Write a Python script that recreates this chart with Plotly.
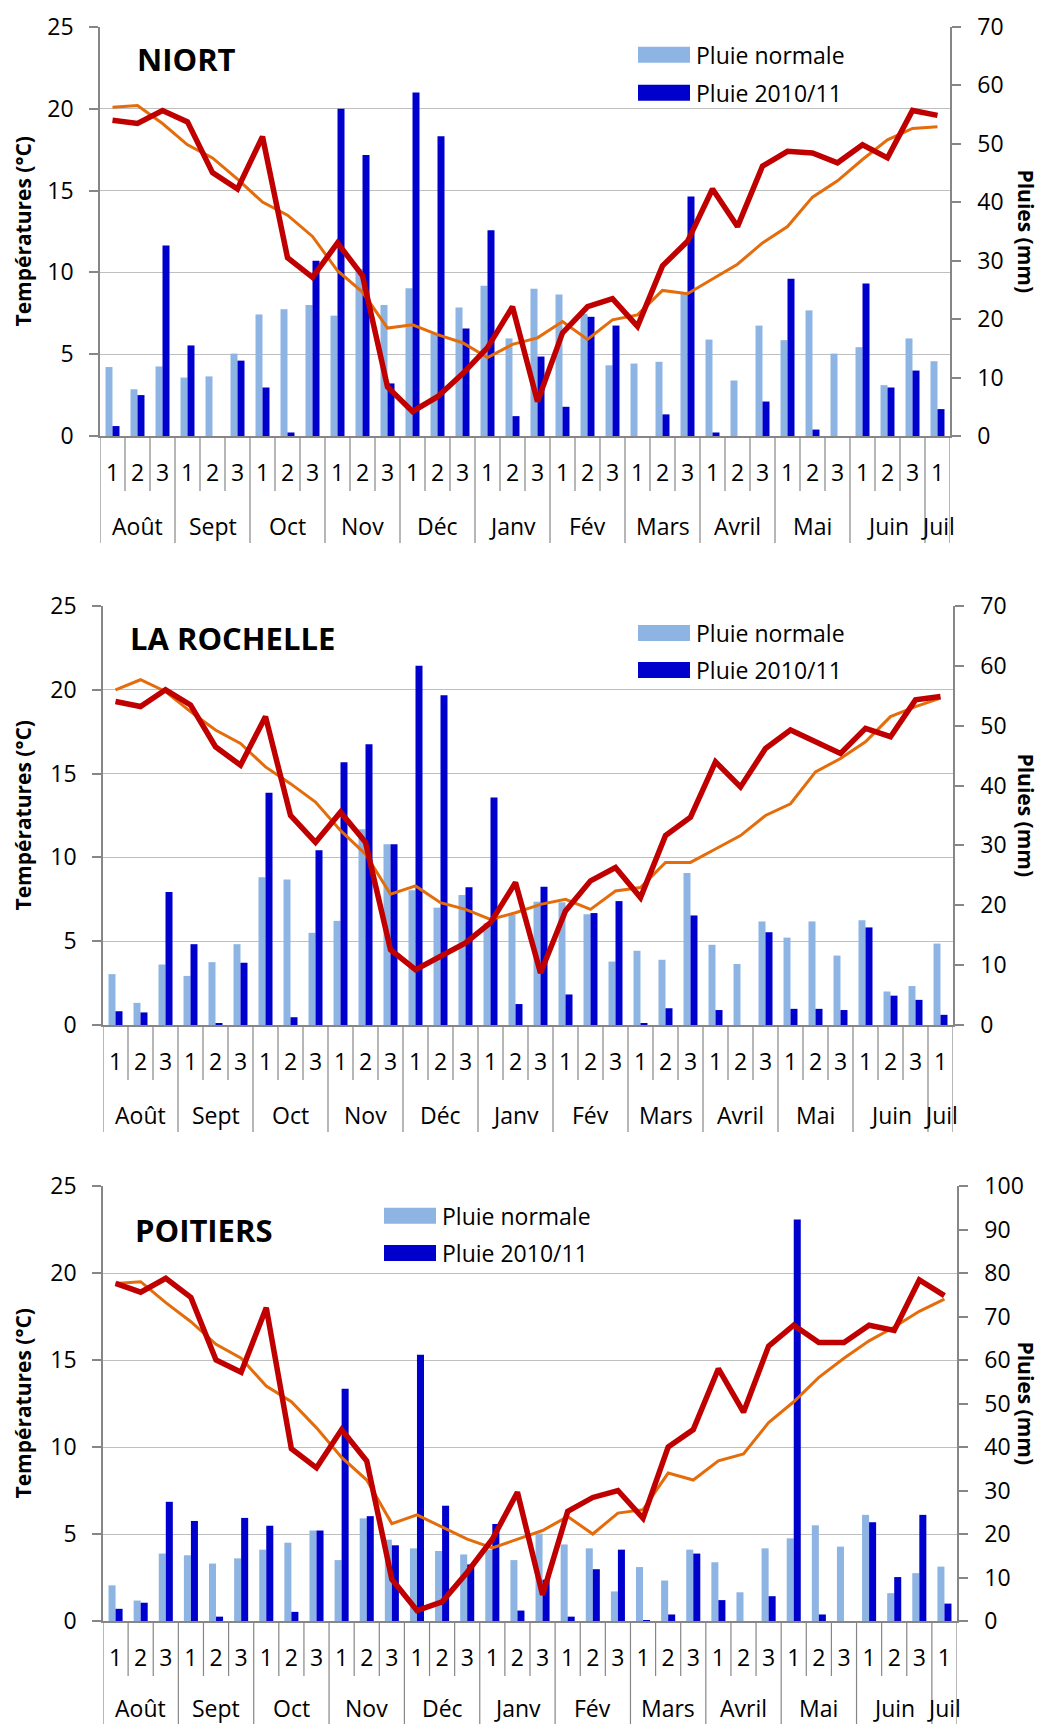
import plotly.graph_objects as go

W, H = 1043, 1724
OFF = 8  # page body margin of the html page (px)
FONT = "Open Sans"

# ---------------- data ----------------
months = ["Août", "Sept", "Oct", "Nov", "Déc", "Janv", "Fév", "Mars", "Avril", "Mai", "Juin", "Juil"]
decades_per_month = [3, 3, 3, 3, 3, 3, 3, 3, 3, 3, 3, 1]
decade_labels = [str(d + 1) for n in decades_per_month for d in range(n)]
categories = [f"{m} {d + 1}" for m, n in zip(months, decades_per_month) for d in range(n)]

niort_rain_normal = [11.8, 8.0, 11.9, 10.0, 10.2, 14.1, 20.8, 21.7, 22.4, 20.6, 28.6, 22.4, 25.3, 17.5, 22.0, 25.7, 16.7,
                     25.2, 24.2, 20.9, 12.1, 12.4, 12.7, 24.4, 16.5, 9.5, 18.9, 16.4, 21.5, 14.1, 15.2, 8.7, 16.7, 12.8]
niort_rain_2010 = [1.7, 7.0, 32.6, 15.5, 0.0, 12.9, 8.3, 0.6, 30.0, 56.0, 48.1, 9.0, 58.8, 51.3, 18.4, 35.2, 3.4,
                   13.6, 5.0, 20.4, 18.9, 0.0, 3.7, 41.0, 0.6, 0.0, 5.9, 26.9, 1.1, 0.0, 26.1, 8.3, 11.2, 4.6]
niort_temp_normal = [20.1, 20.2, 19.1, 17.8, 17.0, 15.7, 14.3, 13.5, 12.2, 10.1, 8.8, 6.6, 6.8, 6.2, 5.7, 4.8, 5.6,
                     6.0, 7.0, 5.9, 7.1, 7.4, 8.9, 8.7, 9.6, 10.5, 11.8, 12.8, 14.6, 15.6, 16.9, 18.1, 18.8, 18.9]
niort_temp_2010 = [19.3, 19.1, 19.9, 19.2, 16.1, 15.1, 18.3, 10.9, 9.7, 11.8, 9.8, 3.0, 1.5, 2.4, 3.8, 5.4, 7.9,
                   2.1, 6.3, 7.9, 8.4, 6.7, 10.4, 11.9, 15.1, 12.8, 16.5, 17.4, 17.3, 16.7, 17.8, 17.0, 19.9, 19.6]

lr_rain_normal = [8.5, 3.7, 10.1, 8.2, 10.5, 13.5, 24.7, 24.3, 15.4, 17.4, 32.7, 30.2, 22.5, 19.6, 21.7, 17.0, 18.4,
                  20.6, 20.5, 18.5, 10.6, 12.4, 10.9, 25.4, 13.4, 10.2, 17.3, 14.6, 17.3, 11.6, 17.5, 5.6, 6.5, 13.6]
lr_rain_2010 = [2.3, 2.1, 22.2, 13.5, 0.3, 10.4, 38.8, 1.3, 29.2, 43.9, 46.9, 30.2, 60.0, 55.1, 23.0, 38.0, 3.5,
                23.1, 5.1, 18.7, 20.7, 0.3, 2.8, 18.3, 2.5, 0.0, 15.5, 2.7, 2.7, 2.5, 16.3, 4.9, 4.2, 1.7]
lr_temp_normal = [20.0, 20.6, 19.9, 18.7, 17.6, 16.8, 15.4, 14.4, 13.3, 11.6, 10.2, 7.8, 8.3, 7.3, 6.9, 6.3, 6.7,
                  7.2, 7.5, 6.9, 8.0, 8.2, 9.7, 9.7, 10.5, 11.3, 12.5, 13.2, 15.1, 15.9, 16.9, 18.4, 19.0, 19.5]
lr_temp_2010 = [19.3, 19.0, 20.0, 19.1, 16.6, 15.5, 18.4, 12.5, 10.9, 12.7, 10.9, 4.5, 3.3, 4.1, 4.9, 6.1, 8.5,
                3.1, 6.8, 8.6, 9.4, 7.6, 11.3, 12.4, 15.7, 14.2, 16.5, 17.6, 16.9, 16.2, 17.7, 17.2, 19.4, 19.6]

pt_rain_normal = [8.2, 4.7, 15.5, 15.1, 13.2, 14.4, 16.4, 18.0, 20.8, 14.0, 23.6, 18.7, 16.7, 16.1, 15.3, 16.4, 14.0,
                  20.1, 17.6, 16.7, 6.8, 12.4, 9.3, 16.4, 13.5, 6.6, 16.7, 19.0, 22.0, 17.1, 24.4, 6.4, 11.0, 12.5]
pt_rain_2010 = [2.8, 4.2, 27.4, 23.0, 1.0, 23.7, 21.9, 2.1, 20.8, 53.4, 24.1, 17.4, 61.2, 26.5, 13.0, 22.3, 2.4,
                9.5, 1.0, 11.9, 16.4, 0.2, 1.5, 15.5, 4.8, 0.0, 5.7, 92.3, 1.5, 0.0, 22.7, 10.1, 24.4, 4.0]
pt_temp_normal = [19.4, 19.5, 18.3, 17.2, 15.9, 15.1, 13.5, 12.6, 11.1, 9.4, 8.1, 5.6, 6.1, 5.4, 4.7, 4.2, 4.7,
                  5.2, 6.0, 5.0, 6.2, 6.4, 8.5, 8.1, 9.2, 9.6, 11.4, 12.6, 14.0, 15.1, 16.1, 16.9, 17.8, 18.5]
pt_temp_2010 = [19.4, 18.9, 19.7, 18.6, 15.0, 14.3, 18.0, 9.9, 8.8, 11.0, 9.2, 2.4, 0.6, 1.1, 2.8, 4.7, 7.4,
                1.5, 6.3, 7.1, 7.5, 5.9, 10.0, 11.0, 14.5, 12.0, 15.8, 17.0, 16.0, 16.0, 17.0, 16.7, 19.6, 18.7]

stations = ["NIORT", "LA ROCHELLE", "POITIERS"]
rain_max = [70, 70, 100]
legend_names = ["Pluie normale", "Pluie 2010/11"]

# ---------------- styling / layout constants (pixels, page coordinates) ----------------
C_LIGHT = "#8DB4E2"
C_DARK = "#0000CC"
C_ORANGE = "#E46C0A"
C_RED = "#C00000"
C_AXIS = "#868686"
C_GRID = "#BFBFBF"

panels = [
    dict(left=100, right=950, top=27, bottom=436, leg_x=638, leg_y=(54.7, 92.8), title=(135, 58.5), month_dy=90),
    dict(left=103, right=953, top=606, bottom=1025, leg_x=638, leg_y=(633.0, 670.0), title=(128, 638.5), month_dy=90),
    dict(left=103, right=957, top=1186, bottom=1621, leg_x=384, leg_y=(1215.8, 1253.0), title=(133, 1229.5), month_dy=87),
]
datasets = [
    (niort_rain_normal, niort_rain_2010, niort_temp_normal, niort_temp_2010),
    (lr_rain_normal, lr_rain_2010, lr_temp_normal, lr_temp_2010),
    (pt_rain_normal, pt_rain_2010, pt_temp_normal, pt_temp_2010),
]


def px(xp):
    return (xp - OFF) / W


def py(yp):
    return 1 - (yp - OFF) / H


fig = go.Figure()
layout = dict(
    template="none",
    width=W, height=H, margin=dict(l=0, r=0, t=0, b=0, pad=0, autoexpand=False),
    paper_bgcolor="white", plot_bgcolor="white",
    barmode="group", bargap=0.44, bargroupgap=0.0,
    showlegend=False,
    font=dict(family=FONT, size=23, color="black"),
)
shapes, annotations = [], []

# month group boundaries (category index space)
bounds_month = [-0.5]
for n in decades_per_month:
    bounds_month.append(bounds_month[-1] + n)
bounds_all = [i - 0.5 for i in range(len(categories) + 1)]
month_centers = [(bounds_month[i] + bounds_month[i + 1]) / 2 for i in range(len(months))]

for k, (p, d) in enumerate(zip(panels, datasets)):
    xa = f"x{k + 1}" if k else "x"
    ya_rain = f"y{2 * k + 1}" if k else "y"
    ya_temp = f"y{2 * k + 2}"
    rn, r10, tn, t10 = d

    fig.add_trace(go.Bar(x=categories, y=rn, name=legend_names[0], marker=dict(color=C_LIGHT, line=dict(width=0)),
                         xaxis=xa, yaxis=ya_rain))
    fig.add_trace(go.Bar(x=categories, y=r10, name=legend_names[1], marker=dict(color=C_DARK, line=dict(width=0)),
                         xaxis=xa, yaxis=ya_rain))
    fig.add_trace(go.Scatter(x=categories, y=tn, mode="lines", line=dict(color=C_ORANGE, width=3),
                             xaxis=xa, yaxis=ya_temp))
    fig.add_trace(go.Scatter(x=categories, y=t10, mode="lines", line=dict(color=C_RED, width=5.5),
                             xaxis=xa, yaxis=ya_temp))

    h = p["bottom"] - p["top"]
    xkey = "xaxis" if k == 0 else f"xaxis{k + 1}"
    layout[xkey] = dict(
        domain=[px(p["left"]), px(p["right"])], anchor=ya_rain, automargin=False,
        type="category", categoryorder="array", categoryarray=categories,
        range=[-0.5, len(categories) - 0.5],
        tickmode="array", tickvals=categories, ticktext=decade_labels,
        ticks="outside", ticklen=16, tickcolor="rgba(0,0,0,0)",
        showline=True, linecolor=C_AXIS, linewidth=1.5,
        showgrid=False, zeroline=False, tickfont=dict(size=23, family=FONT),
        fixedrange=True,
    )
    rkey = "yaxis" if k == 0 else f"yaxis{2 * k + 1}"
    layout[rkey] = dict(
        domain=[py(p["bottom"]), py(p["top"])], anchor=xa, side="right", automargin=False,
        range=[0, rain_max[k]], tick0=0, dtick=10,
        ticks="outside", ticklen=9, tickcolor=C_AXIS, tickwidth=1.5,
        showline=True, linecolor=C_AXIS, linewidth=1.5,
        showgrid=False, zeroline=False, ticklabelstandoff=12,
        tickfont=dict(size=23, family=FONT),
    )
    layout[f"yaxis{2 * k + 2}"] = dict(
        overlaying=ya_rain, anchor=xa, side="left", automargin=False,
        range=[0, 25], tick0=0, dtick=5,
        ticks="outside", ticklen=9, tickcolor=C_AXIS, tickwidth=1.5,
        showline=True, linecolor=C_AXIS, linewidth=1.5,
        showgrid=True, gridcolor=C_GRID, gridwidth=1.2, zeroline=False,
        ticklabelstandoff=11, tickfont=dict(size=23, family=FONT),
    )

    # category dividers below axis
    for b in bounds_all:
        depth = 107 if b in bounds_month else 55
        shapes.append(dict(type="line", xref=xa, yref=f"{ya_rain} domain", x0=b, x1=b, y0=0, y1=-depth / h,
                           line=dict(color=C_AXIS, width=1.2), layer="above"))
    # month labels
    for m, c in zip(months, month_centers):
        annotations.append(dict(xref=xa, yref="paper", x=c, y=py(p["bottom"] + p["month_dy"]), text=m,
                                showarrow=False, xanchor="center", yanchor="middle",
                                font=dict(size=23, family=FONT)))

    # station title
    annotations.append(dict(xref="paper", yref="paper", x=px(p["title"][0]), y=py(p["title"][1]),
                            text=f"<b>{stations[k]}</b>", showarrow=False, xanchor="left", yanchor="middle",
                            font=dict(size=31, family=FONT)))
    # axis titles
    mid = (p["top"] + p["bottom"]) / 2
    annotations.append(dict(xref="paper", yref="paper", x=px(22), y=py(mid), text="<b>Températures (°C)</b>",
                            textangle=-90, showarrow=False, xanchor="center", yanchor="middle",
                            font=dict(size=21, family=FONT)))
    annotations.append(dict(xref="paper", yref="paper", x=px(1026), y=py(mid), text="<b>Pluies (mm)</b>",
                            textangle=90, showarrow=False, xanchor="center", yanchor="middle",
                            font=dict(size=21, family=FONT)))
    # legend
    for name, col, yc in zip(legend_names, [C_LIGHT, C_DARK], p["leg_y"]):
        shapes.append(dict(type="rect", xref="paper", yref="paper", x0=px(p["leg_x"]), x1=px(p["leg_x"] + 52),
                           y0=py(yc + 8), y1=py(yc - 8), fillcolor=col, line=dict(width=0)))
        annotations.append(dict(xref="paper", yref="paper", x=px(p["leg_x"] + 56), y=py(yc), text=name,
                                showarrow=False, xanchor="left", yanchor="middle", font=dict(size=23, family=FONT)))

layout["shapes"] = shapes
layout["annotations"] = annotations
fig.update_layout(**layout)
fig.write_html("out.html")
